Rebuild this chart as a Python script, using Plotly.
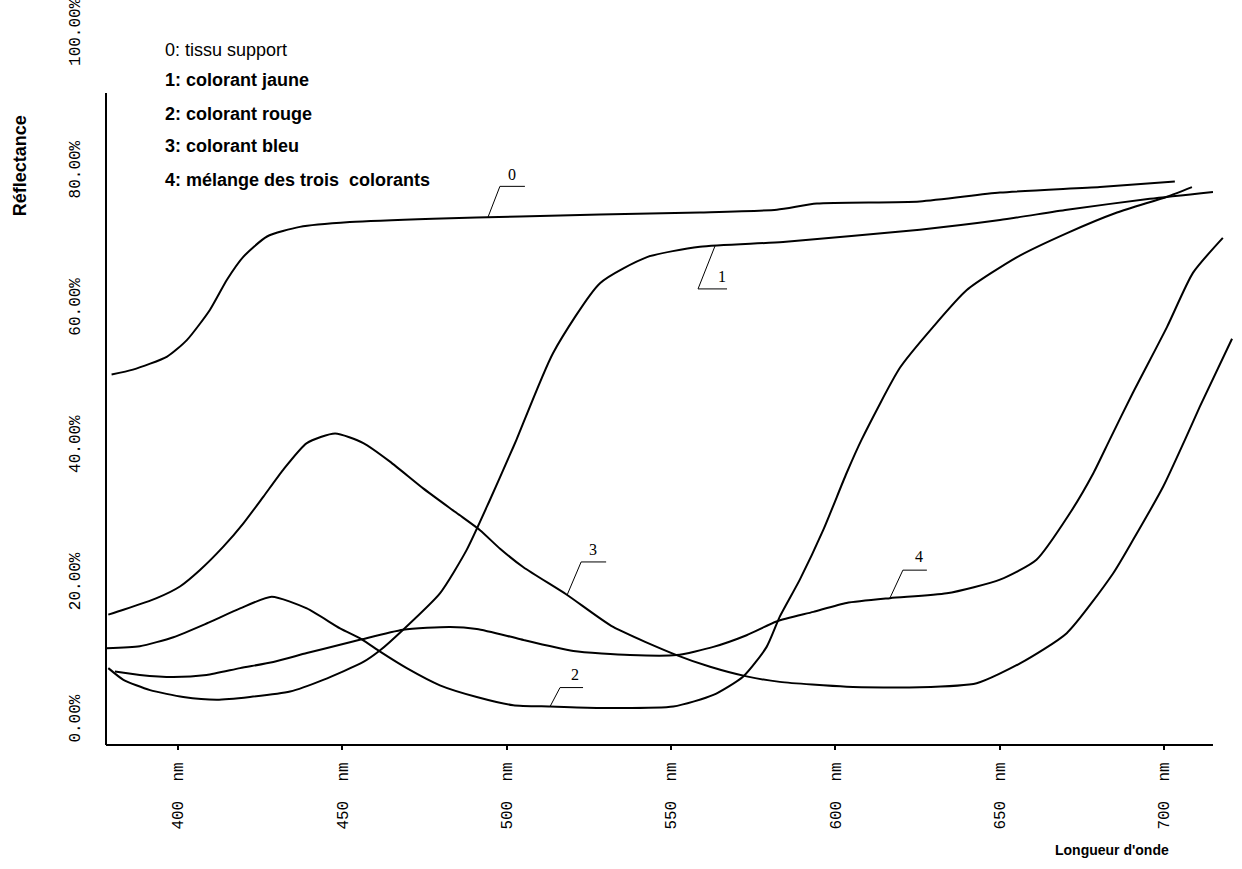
import numpy as np
import plotly.graph_objects as go

# ---- data (wavelength in nm, reflectance in %) ----
wl0 = [379.8, 386.3, 396.7, 402.7, 409.7, 414.9, 419.8, 427.1, 437.1, 452.3, 477.6, 504.0,
       528.4, 558.8, 582.2, 594.4, 625.7, 650.1, 680.5, 703.3]
r0 = [50.5, 51.2, 53.1, 55.5, 59.9, 64.3, 67.6, 70.6, 72.0, 72.7, 73.2, 73.5,
      73.8, 74.1, 74.5, 75.4, 75.7, 77.0, 77.8, 78.6]

wl1 = [378.8, 383.4, 391.5, 401.6, 411.8, 421.9, 434.1, 444.2, 456.4, 461.5, 468.5, 479.7,
       487.8, 494.9, 501.0, 503.0, 514.1, 528.4, 542.7, 558.8, 584.1, 625.7, 650.1, 670.5,
       695.7, 714.9]
r1 = [7.7, 6.0, 4.5, 3.5, 3.1, 3.5, 4.3, 6.0, 8.6, 10.3, 13.3, 18.6,
      24.9, 32.2, 38.8, 41.0, 53.6, 63.8, 67.6, 69.1, 69.8, 71.6, 73.0, 74.5,
      76.1, 77.1]

wl2 = [378.3, 388.4, 398.6, 408.7, 418.9, 428.5, 439.2, 449.3, 455.9, 461.5, 469.6, 479.7,
       490.9, 502.0, 513.2, 527.4, 550.7, 562.9, 572.0, 579.1, 583.1, 589.2, 596.3, 603.4,
       608.0, 619.7, 629.7, 640.0, 655.3, 670.5, 685.7, 700.9, 708.5]
r2 = [10.6, 10.9, 12.2, 14.2, 16.4, 18.1, 16.4, 13.5, 11.9, 10.1, 7.7, 5.2,
      3.5, 2.3, 2.1, 1.9, 2.1, 3.8, 6.5, 10.8, 15.2, 20.6, 27.8, 36.1,
      41.0, 51.5, 57.4, 62.8, 67.6, 71.1, 74.1, 76.4, 77.8]

wl3 = [378.8, 383.4, 393.5, 400.6, 406.7, 413.8, 419.9, 426.0, 432.0, 439.2, 447.8, 456.4,
       464.5, 474.6, 484.8, 491.9, 498.0, 505.1, 518.3, 532.4, 551.7, 561.9, 573.0, 583.1,
       603.4, 625.7, 643.0, 656.2, 670.4, 684.5, 690.6, 699.8, 706.4, 710.9, 720.7]
r3 = [15.5, 16.2, 17.9, 19.6, 22.0, 25.4, 28.8, 32.7, 36.6, 40.5, 41.9, 40.5,
      37.8, 33.9, 30.3, 27.8, 25.1, 22.4, 18.4, 13.7, 9.6, 7.9, 6.5, 5.7,
      5.0, 4.9, 5.5, 8.4, 12.8, 21.5, 26.4, 34.2, 41.0, 45.8, 55.7]

wl4 = [380.8, 388.4, 398.6, 408.7, 418.9, 429.0, 439.2, 449.3, 455.9, 468.5, 482.8, 490.9,
       501.0, 505.1, 520.3, 537.5, 551.7, 562.9, 573.0, 582.1, 593.3, 603.4, 616.6, 633.9,
       650.1, 661.2, 671.4, 678.5, 683.5, 690.5, 700.9, 708.8, 717.9]
r4 = [7.2, 6.7, 6.4, 6.7, 7.7, 8.6, 9.9, 11.1, 11.9, 13.3, 13.7, 13.4,
      12.3, 11.8, 10.2, 9.6, 9.6, 10.8, 12.5, 14.5, 15.9, 17.2, 17.9, 18.6,
      20.6, 23.5, 30.3, 36.1, 41.0, 47.8, 57.4, 65.3, 70.4]

series_names = ["0: tissu support", "1: colorant jaune", "2: colorant rouge",
                "3: colorant bleu", "4: mélange des trois\u00a0 colorants"]
curve_ids = ["0", "1", "2", "3", "4"]
# wavelength where each curve's number label is attached
label_wl = [494.3, 563.4, 513.2, 518.4, 616.6]

x_ticks = [400, 450, 500, 550, 600, 650, 700]
x_ticktext = [f"{v}\u00a0\u00a0nm" for v in x_ticks]
y_ticks = [0, 20, 40, 60, 80, 100]
y_ticktext = [f"{v:.2f}%" for v in y_ticks]

# ---- style ----
X_RANGE = [378.1, 721.6]
X_AXIS_END = 714.9
Y_RANGE = [-3.5, 100.4]
Y_AXIS_TOP = 91.5
# leader geometry in pixels (elbow dx, elbow dy, line end dx, text dx, text dy) – up positive
leader = [(12, 31, 37, 24, 43),
          (-17, -43, 12, 7, -31),
          (10, 19, 33, 25, 32),
          (14, 33, 39, 26, 45),
          (13, 28, 37, 29, 42)]

wls = [wl0, wl1, wl2, wl3, wl4]
rs = [r0, r1, r2, r3, r4]

fig = go.Figure()
for wl, r, name in zip(wls, rs, series_names):
    fig.add_trace(go.Scatter(x=wl, y=r, mode="lines", name=name,
                             line=dict(color="black", width=2, shape="spline", smoothing=0.6),
                             showlegend=False, hoverinfo="skip"))

shapes = []
annotations = []
for i, (cid, lw) in enumerate(zip(curve_ids, label_wl)):
    yv = float(np.interp(lw, wls[i], rs[i]))
    ex, ey, hx, tx, ty = leader[i]
    shapes.append(dict(type="path", xref="x", yref="y", xsizemode="pixel", ysizemode="pixel",
                       xanchor=lw, yanchor=yv,
                       path=f"M0,0 L{ex},{ey} L{hx},{ey}",
                       line=dict(color="black", width=1)))
    annotations.append(dict(x=lw, y=yv, xref="x", yref="y", text=cid, showarrow=False,
                            xshift=tx, yshift=ty,
                            font=dict(family="Liberation Serif", size=16, color="black")))

# axis lines (x axis stops before the last curves end, y axis stops below the top tick)
shapes.append(dict(type="line", xref="paper", yref="y", x0=0, x1=0,
                   y0=Y_RANGE[0], y1=Y_AXIS_TOP, line=dict(color="black", width=2)))
shapes.append(dict(type="line", xref="x", yref="paper", x0=X_RANGE[0], x1=X_AXIS_END,
                   y0=0, y1=0, line=dict(color="black", width=2)))

# legend block
leg_y = [0.9746, 0.9324, 0.8845, 0.8408, 0.7930]
for k, (name, yy) in enumerate(zip(series_names, leg_y)):
    txt = name if k == 0 else f"<b>{name}</b>"
    annotations.append(dict(x=0.0506, y=yy, xref="paper", yref="paper", text=txt,
                            showarrow=False, xanchor="left", yanchor="middle",
                            font=dict(family="Liberation Sans", size=18, color="black")))

annotations.append(dict(x=-0.0765, y=0.8127, xref="paper", yref="paper",
                        xanchor="center", yanchor="middle",
                        text="<b>Réflectance</b>", textangle=-90, showarrow=False,
                        font=dict(family="Liberation Sans", size=18, color="black")))
annotations.append(dict(x=0.8910, y=-0.1479, xref="paper", yref="paper",
                        xanchor="center", yanchor="middle",
                        text="<b>Longueur d'onde</b>", showarrow=False,
                        font=dict(family="Liberation Sans", size=14, color="black")))

fig.update_layout(
    width=1242, height=869,
    margin=dict(l=106, r=7, t=32, b=124, autoexpand=False),
    paper_bgcolor="white", plot_bgcolor="white",
    shapes=shapes, annotations=annotations,
    xaxis=dict(range=X_RANGE, tickvals=x_ticks, ticktext=x_ticktext, tickangle=-90,
               showline=False, showgrid=False, zeroline=False, automargin=False,
               ticks="outside", ticklen=4, tickwidth=1.5, tickcolor="black",
               ticklabelstandoff=6,
               tickfont=dict(family="Liberation Mono", size=16, color="black")),
    yaxis=dict(range=Y_RANGE, tickvals=y_ticks, ticktext=y_ticktext, tickangle=-90,
               showline=False, showgrid=False, zeroline=False, ticks="", automargin=False,
               ticklabelstandoff=22, ticklabeloverflow="allow",
               tickfont=dict(family="Liberation Mono", size=16, color="black")),
)

fig.write_html("out.html")
